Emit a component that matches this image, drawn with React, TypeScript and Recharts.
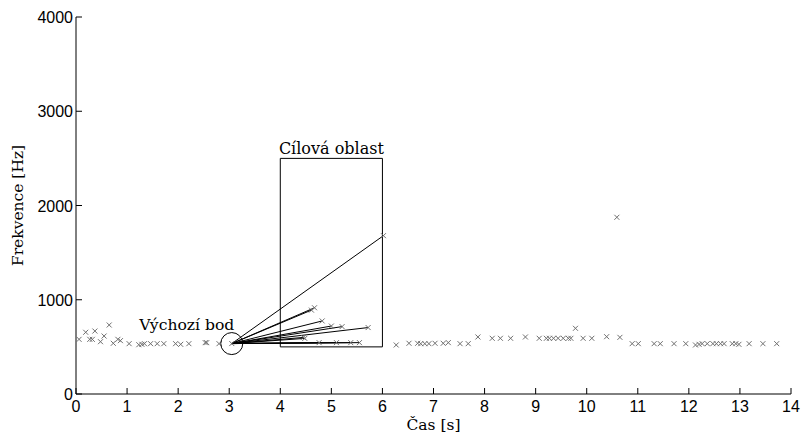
import React from 'react';
import {
  ComposedChart,
  Scatter,
  XAxis,
  YAxis,
  ReferenceLine,
  ReferenceArea,
  ReferenceDot,
} from 'recharts';

// ── Data ────────────────────────────────────────────────────────────────────
const xTicks = [0, 1, 2, 3, 4, 5, 6, 7, 8, 9, 10, 11, 12, 13, 14];
const yTicks = [0, 1000, 2000, 3000, 4000];

// detected pitch points (time [s], frequency [Hz])
const timeS = [
  0.06, 0.19, 0.27, 0.32, 0.37, 0.48, 0.55, 0.65, 0.73, 0.82, 0.87, 1.04,
  1.23, 1.29, 1.34, 1.46, 1.59, 1.72, 1.95, 2.05, 2.21, 2.53, 2.56, 2.8,
  6.27, 6.52, 6.69, 6.75, 6.83, 6.91, 7.03, 7.19, 7.29, 7.52, 7.68, 7.87,
  8.15, 8.31, 8.51, 8.8, 9.07, 9.21, 9.27, 9.35, 9.44, 9.54, 9.64, 9.69,
  9.78, 9.93, 10.1, 10.39, 10.59, 10.65, 10.89, 11.01, 11.32, 11.44, 11.71,
  11.94, 12.13, 12.2, 12.26, 12.36, 12.47, 12.54, 12.62, 12.69, 12.85,
  12.92, 12.98, 13.18, 13.45, 13.72,
];
const freqHz = [
  580, 655, 580, 580, 668, 555, 615, 732, 538, 580, 566, 534,
  523, 527, 534, 534, 534, 534, 534, 527, 534, 545, 545, 534,
  520, 538, 538, 534, 534, 534, 538, 538, 545, 534, 534, 605,
  591, 591, 591, 605, 591, 591, 591, 591, 591, 591, 591, 591,
  697, 591, 591, 608, 1875, 601, 534, 534, 534, 534, 534,
  534, 520, 527, 534, 534, 534, 534, 534, 534, 534,
  534, 527, 534, 534, 534,
];

// starting point and candidate points inside the target region
const startTime = 3.05;
const startFreq = 535;
const targetTime = [6.02, 4.67, 4.61, 4.82, 5.0, 5.21, 5.72, 4.45, 4.48, 4.76, 5.1, 5.38, 5.55];
const targetFreq = [1680, 915, 890, 775, 721, 715, 705, 600, 590, 545, 545, 545, 545];

// target region bounds
const regionTime = [4, 6];
const regionFreq = [500, 2500];

const points = timeS.map((t, i) => ({ x: t, y: freqHz[i] }));
const startPoint = [{ x: startTime, y: startFreq }];
const targets = targetTime.map((t, i) => ({ x: t, y: targetFreq[i] }));

const SANS = '"Liberation Sans", Arial, sans-serif';
const SERIF = '"DejaVu Serif", "Liberation Serif", serif';
const TICK = 6;

function Cross(props: any) {
  const { cx, cy } = props;
  const s = 2.5;
  return (
    <path
      d={`M${cx - s},${cy - s}L${cx + s},${cy + s}M${cx - s},${cy + s}L${cx + s},${cy - s}`}
      stroke="#707070"
      strokeWidth={1}
      fill="none"
    />
  );
}

function BottomTick(props: any) {
  const { x, y, payload } = props;
  return (
    <g>
      <line x1={x} y1={y} x2={x} y2={y - TICK} stroke="#000" />
      <text x={x} y={y + 18} textAnchor="middle" fontFamily={SANS} fontSize={16} fill="#000">
        {payload.value}
      </text>
    </g>
  );
}

function TopTick(props: any) {
  const { x, y } = props;
  return <line x1={x} y1={y} x2={x} y2={y + TICK} stroke="#000" />;
}

function LeftTick(props: any) {
  const { x, y, payload } = props;
  return (
    <g>
      <line x1={x} y1={y} x2={x + TICK} y2={y} stroke="#000" />
      <text x={x - 3} y={y + 6} textAnchor="end" fontFamily={SANS} fontSize={16} fill="#000">
        {payload.value}
      </text>
    </g>
  );
}

function RightTick(props: any) {
  const { x, y } = props;
  return <line x1={x} y1={y} x2={x - TICK} y2={y} stroke="#000" />;
}

function StartLabel(props: any) {
  const vb = props.viewBox || {};
  const cx = vb.x + vb.width / 2;
  return (
    <text x={cx - 45} y={vb.y - 3} textAnchor="middle" fontFamily={SERIF} fontSize={15.6} fill="#000">
      Výchozí bod
    </text>
  );
}

export default function App() {
  return (
    <div style={{ position: 'absolute', left: 0, top: 0, background: '#fff' }}>
      <ComposedChart
        width={802}
        height={438}
        margin={{ top: 17, right: 11, bottom: 0, left: 0 }}
      >
        <XAxis
          type="number"
          dataKey="x"
          domain={[0, 14]}
          ticks={xTicks}
          interval={0}
          height={44}
          tickSize={0}
          tickMargin={0}
          tickLine={false}
          tick={BottomTick}
          axisLine={{ stroke: '#000' }}
          label={{ value: 'Čas [s]', position: 'insideBottom', offset: 8, fontFamily: SERIF, fontSize: 15.5, fill: '#000' }}
        />
        <XAxis
          xAxisId="top"
          orientation="top"
          type="number"
          domain={[0, 14]}
          ticks={xTicks}
          interval={0}
          height={0}
          tickSize={0}
          tickMargin={0}
          tickLine={false}
          tick={TopTick}
          axisLine={{ stroke: '#000' }}
        />
        <YAxis
          type="number"
          dataKey="y"
          domain={[0, 4000]}
          ticks={yTicks}
          interval={0}
          width={76}
          tickSize={0}
          tickMargin={0}
          tickLine={false}
          tick={LeftTick}
          axisLine={{ stroke: '#000' }}
          label={{ value: 'Frekvence [Hz]', angle: -90, position: 'insideLeft', offset: 17, fontFamily: SERIF, fontSize: 15.5, fill: '#000', style: { textAnchor: 'middle' } }}
        />
        <YAxis
          yAxisId="right"
          orientation="right"
          type="number"
          domain={[0, 4000]}
          ticks={yTicks}
          interval={0}
          width={0}
          tickSize={0}
          tickMargin={0}
          tickLine={false}
          tick={RightTick}
          axisLine={{ stroke: '#000' }}
        />

        <ReferenceArea
          x1={regionTime[0]}
          x2={regionTime[1]}
          y1={regionFreq[0]}
          y2={regionFreq[1]}
          fill="none"
          stroke="#000"
          strokeWidth={1}
          label={{ value: 'Cílová oblast', position: 'top', offset: 4, fontFamily: SERIF, fontSize: 16, fill: '#000' }}
        />

        {targets.map((p, i) => (
          <ReferenceLine
            key={i}
            segment={[{ x: startTime, y: startFreq }, { x: p.x, y: p.y }]}
            stroke="#000"
            strokeWidth={1}
            ifOverflow="visible"
          />
        ))}

        <Scatter data={points} shape={Cross} isAnimationActive={false} />
        <Scatter data={targets} shape={Cross} isAnimationActive={false} />
        <Scatter data={startPoint} shape={Cross} isAnimationActive={false} />

        <ReferenceDot
          x={startTime}
          y={startFreq}
          r={11}
          fill="none"
          stroke="#000"
          strokeWidth={1}
          label={<StartLabel />}
        />
      </ComposedChart>
    </div>
  );
}
